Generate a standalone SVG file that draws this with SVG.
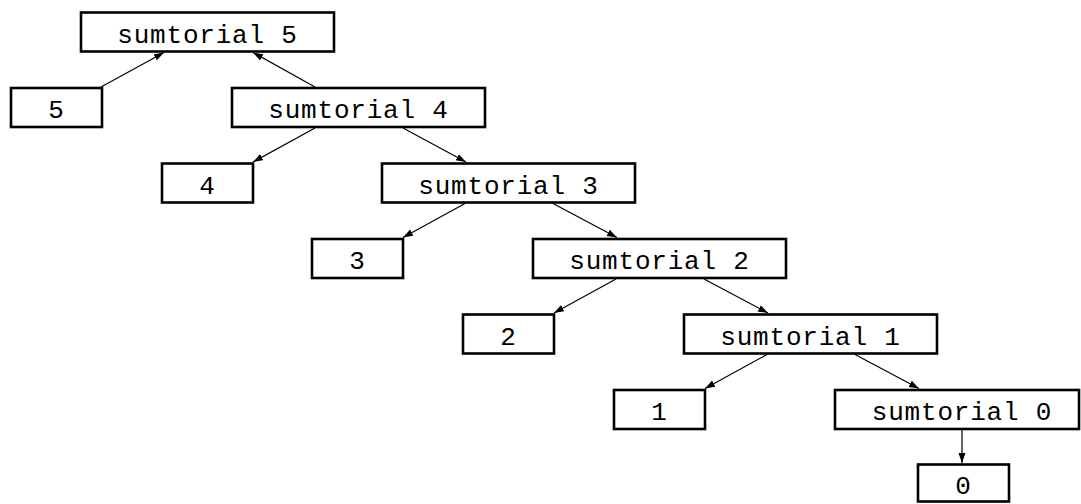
<svg xmlns="http://www.w3.org/2000/svg" width="1081" height="504" viewBox="0 0 1081 504">
<style>
.box{fill:#fff;stroke:#000;stroke-width:2.6}
.t{font-family:"Liberation Mono","DejaVu Sans Mono",monospace;font-size:26px;letter-spacing:0.8px;text-anchor:middle;fill:#000}
.c{stroke:#000;stroke-width:1.2;fill:none;marker-end:url(#ah)}
</style>
<defs>
<marker id="ah" markerUnits="userSpaceOnUse" markerWidth="10" markerHeight="8" refX="10" refY="3.5" orient="auto">
<path d="M0,0 L10,3.5 L0,7 z" fill="#000"/>
</marker>
</defs>
<rect width="1081" height="504" fill="#fff"/>
<g id="connectors">
<line class="c" x1="101" y1="87" x2="164" y2="52.5"/>
<line class="c" x1="315" y1="87" x2="253" y2="52.5"/>
<line class="c" x1="315" y1="128" x2="253" y2="162"/>
<line class="c" x1="403" y1="128" x2="466" y2="162"/>
<line class="c" x1="465" y1="203.5" x2="403" y2="237.5"/>
<line class="c" x1="553" y1="203.5" x2="617" y2="237.5"/>
<line class="c" x1="616" y1="279" x2="554" y2="313"/>
<line class="c" x1="704" y1="279" x2="768" y2="313"/>
<line class="c" x1="767" y1="354.5" x2="705" y2="388.5"/>
<line class="c" x1="855" y1="354.5" x2="919" y2="388.5"/>
<line class="c" x1="962" y1="430" x2="962" y2="463"/>
</g>
<g id="s5"><rect class="box" x="81" y="12.5" width="253" height="39"/><text class="t" x="207.5" y="42.5">sumtorial 5</text></g>
<g id="l5"><rect class="box" x="11" y="88" width="91" height="39"/><text class="t" x="56.5" y="118">5</text></g>
<g id="s4"><rect class="box" x="232" y="88" width="253" height="39"/><text class="t" x="358.5" y="118">sumtorial 4</text></g>
<g id="l4"><rect class="box" x="162" y="163.5" width="91" height="39"/><text class="t" x="207.5" y="193.5">4</text></g>
<g id="s3"><rect class="box" x="382" y="163.5" width="253" height="39"/><text class="t" x="508.5" y="193.5">sumtorial 3</text></g>
<g id="l3"><rect class="box" x="312" y="239" width="91" height="39"/><text class="t" x="357.5" y="269">3</text></g>
<g id="s2"><rect class="box" x="533" y="239" width="253" height="39"/><text class="t" x="659.5" y="269">sumtorial 2</text></g>
<g id="l2"><rect class="box" x="463" y="314.5" width="91" height="39"/><text class="t" x="508.5" y="344.5">2</text></g>
<g id="s1"><rect class="box" x="684" y="314.5" width="253" height="39"/><text class="t" x="810.5" y="344.5">sumtorial 1</text></g>
<g id="l1"><rect class="box" x="614" y="390" width="91" height="39"/><text class="t" x="659.5" y="420">1</text></g>
<g id="s0"><rect class="box" x="835" y="390" width="244" height="39"/><text class="t" x="962" y="420">sumtorial 0</text></g>
<g id="l0"><rect class="box" x="918" y="464.5" width="91" height="37"/><text class="t" x="963.5" y="494">0</text></g>
</svg>
